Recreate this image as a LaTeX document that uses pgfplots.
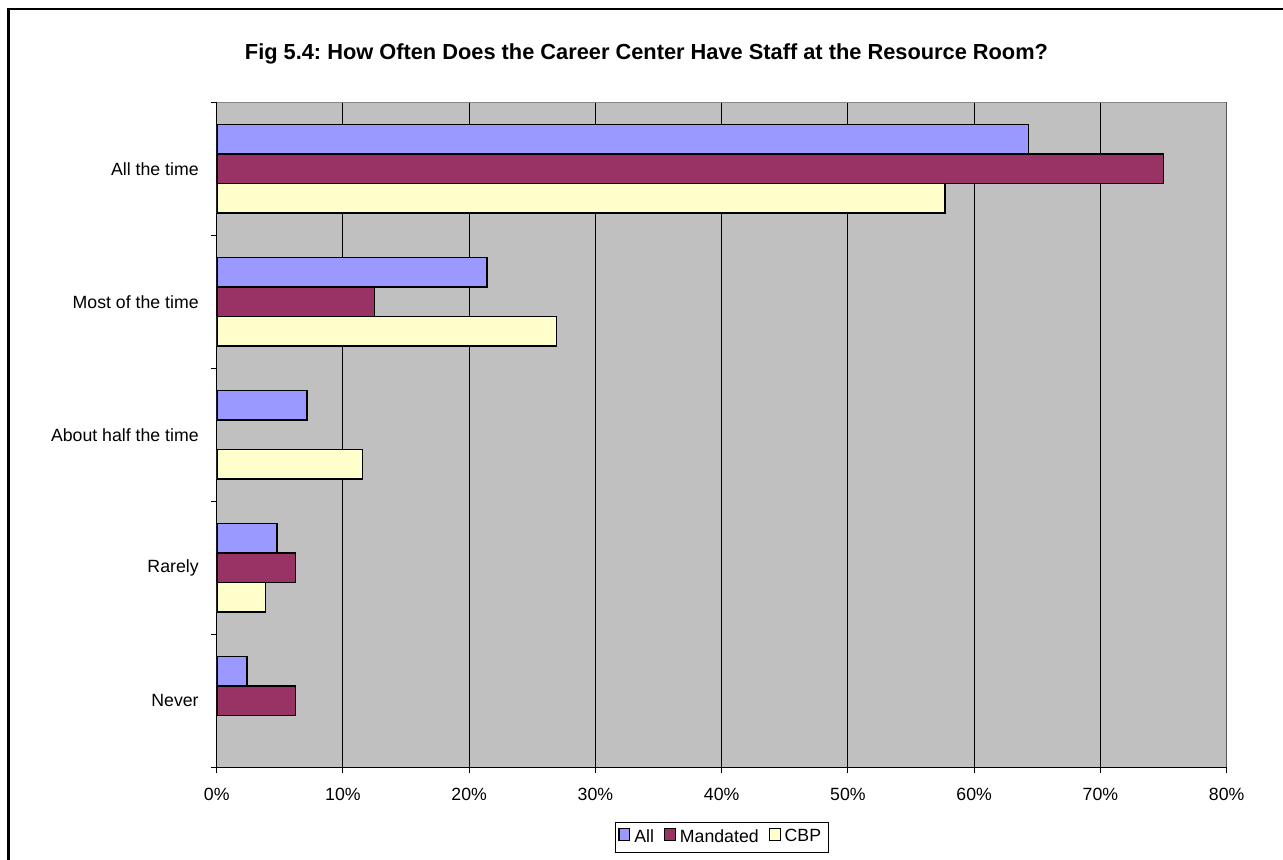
\documentclass[border=0pt]{standalone}
\usepackage{fontspec}
\setmainfont{Liberation Sans}
\usepackage{pgfplots}
\pgfplotsset{compat=1.18}
\definecolor{cAll}{HTML}{9999FF}
\definecolor{cMan}{HTML}{993366}
\definecolor{cCBP}{HTML}{FFFFCC}
\definecolor{plotbg}{HTML}{C0C0C0}
\definecolor{framegray}{HTML}{868686}
\pgfplotsset{
  mylegend/.style={legend image code/.code={\draw[##1, line width=0.6pt, draw=black] (0pt,-1.5pt) rectangle (5.4pt,4.2pt);}}
}
\begin{document}
\frenchspacing
\begin{tikzpicture}[x=1pt,y=1pt]
\useasboundingbox (0,0) rectangle (641.5,430);
\draw[line width=1.2pt] (4.25,-5) -- (4.25,425.5) -- (660,425.5);
\node[font=\fontsize{10.9}{12}\selectfont\bfseries] at (323.25,403) {Fig 5.4: How Often Does the Career Center Have Staff at the Resource Room?};
\begin{axis}[
  at={(108.35pt,46.35pt)}, anchor=south west,
  width=505pt, height=332.5pt, scale only axis,
  xbar,
  xmin=0, xmax=80, ymin=-0.5, ymax=4.5, y dir=reverse,
  xtick={0,10,...,80},
  xticklabel={\pgfmathprintnumber{\tick}\%},
  ytick={0,1,2,3,4},
  yticklabels={All the time, Most of the time, About half the time, Rarely, Never},
  minor ytick={-0.5,0.5,1.5,2.5,3.5,4.5},
  tick align=outside, tick pos=left,
  major tick length=3pt, minor tick length=3pt,
  major y tick style={draw=none},
  minor y tick style={black, line width=0.5pt},
  x tick style={black, line width=0.5pt},
  xmajorgrids, major grid style={black, line width=0.5pt},
  axis background/.style={fill=plotbg},
  axis line style={draw=none},
  tick label style={font=\fontsize{8.85}{10}\selectfont},
  yticklabel style={xshift=-2.5pt},
  xticklabel style={yshift=-4pt},
  /pgf/number format/assume math mode=true,
  bar width=0.223,
  legend style={at={(0.5,-0.105)}, anchor=center, legend columns=3, draw=black, line width=0.5pt,
    font=\fontsize{8.85}{10}\selectfont, inner sep=1.5pt,
    /tikz/every even column/.append style={column sep=3pt}},
]
\addplot[fill=cAll, draw=black, line width=0.8pt, bar shift=-0.223, mylegend]
  coordinates {(64.29,0) (21.43,1) (7.14,2) (4.76,3) (2.38,4)};
\addplot[fill=cMan, draw=black, line width=0.8pt, bar shift=0, mylegend]
  coordinates {(75,0) (12.5,1) (6.25,3) (6.25,4)};
\addplot[fill=cCBP, draw=black, line width=0.8pt, bar shift=0.223, mylegend]
  coordinates {(57.69,0) (26.92,1) (11.54,2) (3.85,3)};
\legend{All, Mandated, CBP}
\draw[framegray, line width=0.7pt] (axis description cs:0,1) -- (axis description cs:1,1) -- (axis description cs:1,0);
\draw[black, line width=0.6pt] (axis description cs:0,1) -- (axis description cs:0,0) -- (axis description cs:1,0);
\end{axis}
\end{tikzpicture}
\end{document}
